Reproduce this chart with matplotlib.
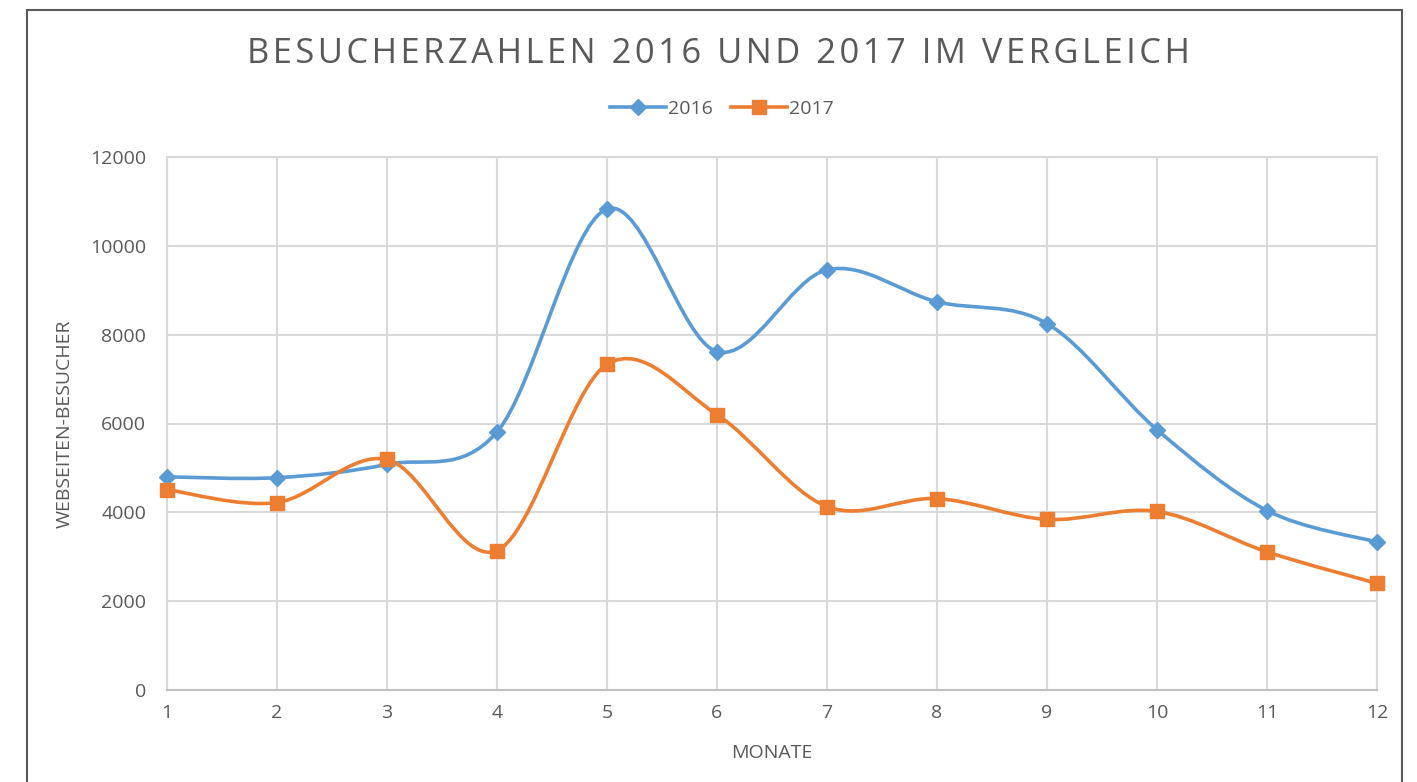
import numpy as np
import matplotlib
matplotlib.use('Agg')
import matplotlib.pyplot as plt
from matplotlib.path import Path
from matplotlib.patches import PathPatch, Rectangle
from matplotlib.lines import Line2D

plt.rcParams['font.family'] = ['Open Sans', 'DejaVu Sans']

months = [1, 2, 3, 4, 5, 6, 7, 8, 9, 10, 11, 12]
visitors_2016 = [4800, 4780, 5080, 5810, 10830, 7620, 9460, 8740, 8250, 5860, 4040, 3330]
visitors_2017 = [4510, 4220, 5190, 3140, 7330, 6200, 4130, 4310, 3840, 4020, 3110, 2400]
yticks = [0, 2000, 4000, 6000, 8000, 10000, 12000]
title = 'BESUCHERZAHLEN 2016 UND 2017 IM VERGLEICH'

blue = '#5B9BD5'
orange = '#ED7D31'
grey_txt = '#595959'
grid_col = '#D9D9D9'


def smooth_path(x, y):
    # Excel-style smoothed line: cubic bezier, control points from neighbours / 6
    pts = np.column_stack([x, y]).astype(float)
    n = len(pts)
    verts = [pts[0]]
    codes = [Path.MOVETO]
    for i in range(n - 1):
        p0 = pts[i - 1] if i > 0 else pts[i]
        p1 = pts[i]
        p2 = pts[i + 1]
        p3 = pts[i + 2] if i + 2 < n else pts[i + 1]
        c1 = p1 + (p2 - p0) / 6.0
        c2 = p2 - (p3 - p1) / 6.0
        verts += [c1, c2, p2]
        codes += [Path.CURVE4] * 3
    return Path(verts, codes)


fig = plt.figure(figsize=(14.17, 7.82), dpi=100)
ax = fig.add_axes([167 / 1417, 1 - 690 / 782, (1377 - 167) / 1417, (690 - 157) / 782])

for vals, col, mk, ms in [(visitors_2016, blue, 'D', 8), (visitors_2017, orange, 's', 9.5)]:
    ax.add_patch(PathPatch(smooth_path(months, vals), fill=False, edgecolor=col,
                           lw=2.6, zorder=3, capstyle='round'))
    ax.plot(months, vals, linestyle='none', marker=mk, ms=ms, color=col, zorder=4, clip_on=False)

ax.set_xlim(1, 12)
ax.set_ylim(0, 12000)
ax.set_xticks(months)
ax.set_yticks(yticks)
ax.grid(True, color=grid_col, lw=1.5)
ax.set_axisbelow(True)
for s in ax.spines.values():
    s.set_color(grid_col)
    s.set_linewidth(1.5)
ax.spines['bottom'].set_color('#BFBFBF')
ax.tick_params(length=0, labelsize=14, colors=grey_txt)
ax.tick_params(axis='y', pad=15)
ax.tick_params(axis='x', pad=10)

ax.set_xlabel('MONATE', fontsize=14, color=grey_txt, labelpad=16)
ax.set_ylabel('WEBSEITEN-BESUCHER', fontsize=14, color=grey_txt, labelpad=12)

# Excel title uses wide letter spacing -> hair spaces between letters
fig.text(718 / 1417, 1 - 54 / 782, '\u200a'.join(title),
         ha='center', va='center', fontsize=24.8, color=grey_txt)

handles = [Line2D([], [], color=blue, lw=2.6, marker='D', ms=8),
           Line2D([], [], color=orange, lw=2.6, marker='s', ms=9.5)]
fig.legend(handles, ['2016', '2017'], loc='center', bbox_to_anchor=(722 / 1417, 1 - 109 / 782),
           ncol=2, frameon=False, fontsize=14, labelcolor=grey_txt,
           handlelength=2.9, handletextpad=0.1, columnspacing=0.9)

fig.patches.append(Rectangle((27 / 1417, -0.05), (1402 - 27) / 1417, 1.05 - 10 / 782,
                             transform=fig.transFigure, fill=False,
                             edgecolor='#595959', lw=1.5))

fig.savefig('out.png', dpi=100, facecolor='white')
